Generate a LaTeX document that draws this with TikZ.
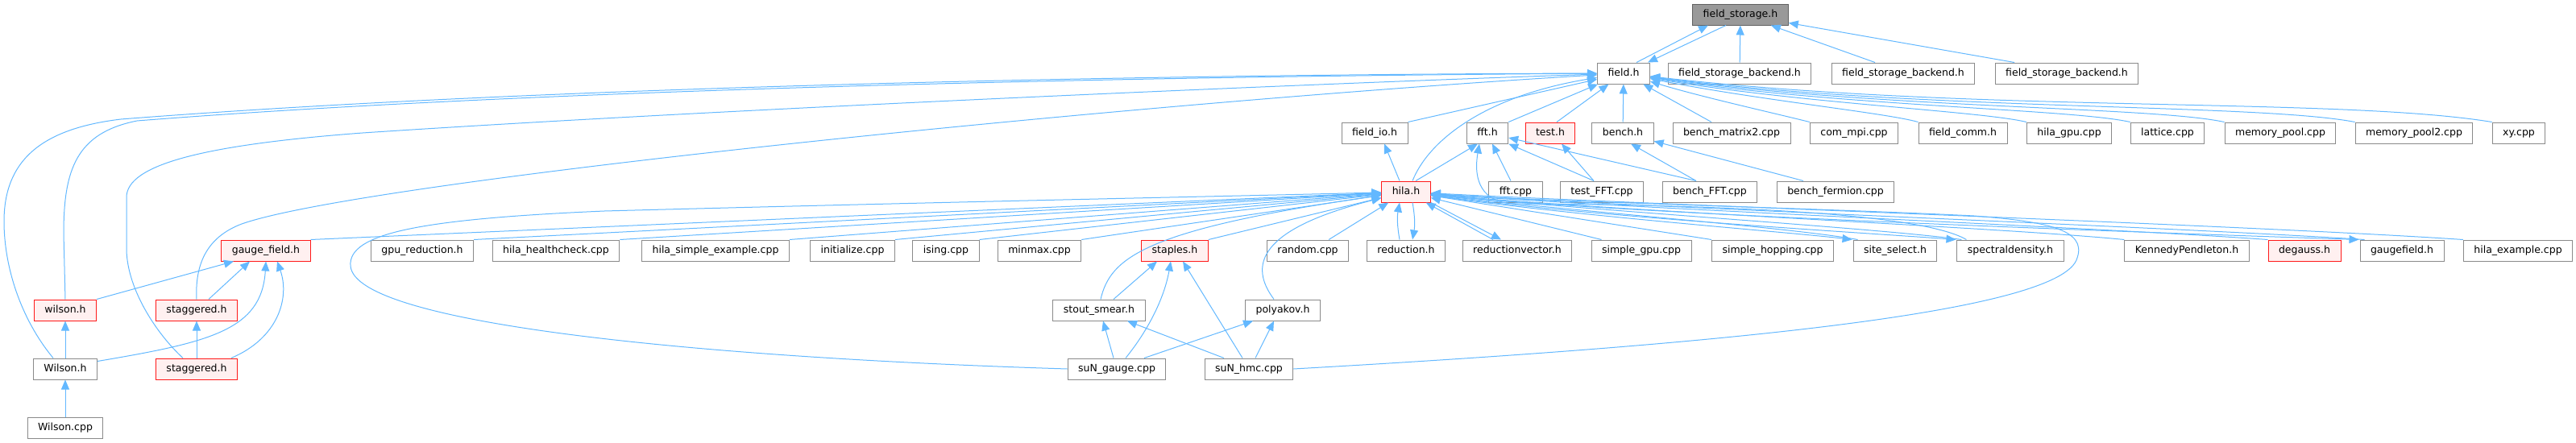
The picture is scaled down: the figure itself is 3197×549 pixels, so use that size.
\documentclass[tikz,border=0pt]{standalone}
\usepackage{fontspec}
\setmainfont{DejaVu Sans}
\usetikzlibrary{arrows.meta}
\definecolor{eb}{RGB}{99,184,255}
\definecolor{bx}{RGB}{138,138,138}
\definecolor{rootf}{RGB}{153,153,153}
\definecolor{hotf}{RGB}{255,240,240}
\tikzset{
  fb/.style={rectangle, draw=bx, fill=white, line width=1pt, minimum height=26pt,
             inner xsep=13pt, inner ysep=0pt, text height=9.5pt, text depth=2.8pt,
             font=\fontsize{12.5}{14}\selectfont},
  % arquivo com grafo truncado (borda vermelha)
  fhot/.style={fb, draw=red!90!white, fill=hotf},
  froot/.style={fb, draw=bx!70!black, fill=rootf},
  inc/.style={draw=eb, line width=1pt, -{Triangle[length=12pt,width=10pt]}}
}

\begin{document}
\begin{tikzpicture}[x=1pt, y=-1pt]
    \useasboundingbox (0,0) rectangle (3197,549);

    % --- linha 0 e 1 ---
    \node[froot] (fs) at (2160,18) {field\_storage.h};
    \node[fb] (fld) at (2015,91) {field.h};
    \node[fb] (fsb1) at (2159,91) {field\_storage\_backend.h};
    \node[fb] (fsb2) at (2362,91) {field\_storage\_backend.h};
    \node[fb] (fsb3) at (2565,91) {field\_storage\_backend.h};

    % --- linha 2 ---
    \node[fb] (fio) at (1706,165) {field\_io.h};
    \node[fb] (ffth) at (1846,165) {fft.h};
    \node[fhot] (testh) at (1924,165) {test.h};
    \node[fb] (benchh) at (2014,165) {bench.h};
    \node[fb] (bm2) at (2149,165) {bench\_matrix2.cpp};
    \node[fb] (cmpi) at (2301,165) {com\_mpi.cpp};
    \node[fb] (fcomm) at (2436,165) {field\_comm.h};
    \node[fb] (hgpu) at (2568,165) {hila\_gpu.cpp};
    \node[fb] (latt) at (2690,165) {lattice.cpp};
    \node[fb] (mp) at (2830,165) {memory\_pool.cpp};
    \node[fb] (mp2) at (2996,165) {memory\_pool2.cpp};
    \node[fb] (xy) at (3126,165) {xy.cpp};

    % --- linha 3 ---
    \node[fhot] (hila) at (1745,238) {hila.h};
    \node[fb] (fftc) at (1881,238) {fft.cpp};
    \node[fb] (tfft) at (1988,238) {test\_FFT.cpp};
    \node[fb] (bfft) at (2122,238) {bench\_FFT.cpp};
    \node[fb] (bferm) at (2278,238) {bench\_fermion.cpp};

    % --- linha 4 ---
    \node[fhot] (gf) at (330,311) {gauge\_field.h};
    \node[fb] (gpur) at (524,311) {gpu\_reduction.h};
    \node[fb] (hhc) at (690,311) {hila\_healthcheck.cpp};
    \node[fb] (hse) at (888,311) {hila\_simple\_example.cpp};
    \node[fb] (init) at (1058,311) {initialize.cpp};
    \node[fb] (ising) at (1174,311) {ising.cpp};
    \node[fb] (minmax) at (1290,311) {minmax.cpp};
    \node[fhot] (stap) at (1458,311) {staples.h};
    \node[fb] (rand) at (1623,311) {random.cpp};
    \node[fb] (red) at (1745,311) {reduction.h};
    \node[fb] (redv) at (1883,311) {reductionvector.h};
    \node[fb] (sgpu) at (2037,311) {simple\_gpu.cpp};
    \node[fb] (shop) at (2200,311) {simple\_hopping.cpp};
    \node[fb] (ssel) at (2352,311) {site\_select.h};
    \node[fb] (spec) at (2495,311) {spectraldensity.h};
    \node[fb] (kp) at (2714,311) {KennedyPendleton.h};
    \node[fhot] (deg) at (2860,311) {degauss.h};
    \node[fb] (gfh) at (2981,311) {gaugefield.h};
    \node[fb] (hex) at (3125,311) {hila\_example.cpp};

    % --- linhas 5 a 7 ---
    \node[fhot] (wil) at (81,385) {wilson.h};
    \node[fhot] (stga) at (244,385) {staggered.h};
    \node[fb] (stout) at (1364,385) {stout\_smear.h};
    \node[fb] (poly) at (1592,385) {polyakov.h};
    \node[fb] (Wil) at (81,458) {Wilson.h};
    \node[fhot] (stgb) at (244,458) {staggered.h};
    \node[fb] (sung) at (1386,458) {suN\_gauge.cpp};
    \node[fb] (sunh) at (1550,458) {suN\_hmc.cpp};
    \node[fb] (wcpp) at (81,531) {Wilson.cpp};

    % --- field_storage.h ---
    \draw[inc] ([xshift=16]fld.north) -- ([xshift=-40]fs.south);
    \draw[inc] ([xshift=-18]fs.south) -- ([xshift=-3]fld.north east);
    \draw[inc] (fsb1) -- (fs);
    \draw[inc] ([xshift=-35]fsb2.north) -- (fs);
    \draw[inc] ([xshift=-65]fsb3.north) -- (fs);

    % --- field.h ---
    \draw[inc] (fio.north east) -- (fld);
    \draw[inc] (ffth.north east) -- (fld);
    \draw[inc] ([xshift=8]testh.north) -- (fld);
    \draw[inc] (benchh) -- (fld);
    \draw[inc] ([xshift=-25]bm2.north) -- (fld);
    \draw[inc] (cmpi.north west) .. controls (2200,140) and (2110,120) .. (fld);
    \draw[inc] (fcomm.north west) .. controls (2340,140) and (2180,124) .. (fld);
    \draw[inc] (hgpu.north west) .. controls (2460,138) and (2230,128) .. (fld);
    \draw[inc] (latt.north west) .. controls (2570,135) and (2280,132) .. (fld);
    \draw[inc] (mp.north west) .. controls (2670,132) and (2330,135) .. (fld);
    \draw[inc] (mp2.north west) .. controls (2800,128) and (2380,138) .. (fld);
    \draw[inc] (xy.north west) .. controls (2900,120) and (2450,141) .. (fld);
    \draw[inc] ([xshift=8]hila.north) .. controls (1775,170) and (1850,118) .. (fld);
    % arcos longos pela esquerda
    \draw[inc] ([xshift=-15]Wil.north) .. controls (25,395) and (5,330) .. (5,275)
      .. controls (5,200) and (50,160) .. (150,148) .. controls (700,105) and (1500,92) .. (fld);
    \draw[inc] (wil.north) -- (79,290) .. controls (79,210) and (95,165) .. (170,150)
      .. controls (700,108) and (1500,94) .. (fld);
    \draw[inc] ([xshift=-17]stgb.north) .. controls (195,415) and (158,360) .. (157,310) -- (157,245)
      .. controls (157,205) and (250,180) .. (450,165) .. controls (900,135) and (1650,103) .. (fld);
    \draw[inc] (stga.north) .. controls (242,330) and (255,295) .. (300,278)
      .. controls (450,225) and (1400,128) .. (fld);

    % --- fft.h, test.h, bench.h ---
    \draw[inc] ([xshift=-8]hila.north) -- ([xshift=12]fio.south);
    \draw[inc] ([xshift=12]hila.north) -- ([xshift=-12]ffth.south);
    \draw[inc] ([xshift=-6]fftc.north) -- ([xshift=6]ffth.south);
    \draw[inc] ([xshift=-10]tfft.north) -- (ffth.south east);
    \draw[inc] ([xshift=-10]tfft.north) -- ([xshift=14]testh.south);
    \draw[inc] ([xshift=-17]bfft.north) -- (ffth);
    \draw[inc] ([xshift=-17]bfft.north) -- ([xshift=10]benchh.south);
    \draw[inc] ([xshift=-40]bferm.north) -- (benchh);
    \draw[inc] ([xshift=12]spec.north west) .. controls (2380,262) and (2100,254) .. (1880,253)
      .. controls (1840,252) and (1828,225) .. ([xshift=-10]ffth.south);

    % --- hila.h, lado esquerdo ---
    \draw[inc] (gf.north east) -- (hila);
    \draw[inc] (gpur.north east) -- (hila);
    \draw[inc] (hhc.north east) -- (hila);
    \draw[inc] (hse.north east) -- (hila);
    \draw[inc] (init.north east) -- (hila);
    \draw[inc] (ising.north east) -- (hila);
    \draw[inc] (minmax.north east) -- (hila);
    \draw[inc] (stap.north east) -- (hila);
    \draw[inc] ([xshift=2]stout.north) .. controls (1378,320) and (1420,285) .. (hila);
    \draw[inc] ([xshift=-11]poly.north) .. controls (1550,330) and (1560,285) .. (hila);
    \draw[inc] ([xshift=-25]rand.north east) -- (hila);
    \draw[inc] (sung.west) .. controls (900,445) and (440,405) .. (435,330)
      .. controls (432,290) and (520,272) .. (750,262) .. controls (1200,250) and (1600,242) .. (hila);

    % --- hila.h, ida e volta ---
    \draw[inc] ([xshift=-8]red.north) to[bend left=10] ([xshift=-8]hila.south);
    \draw[inc] ([xshift=8]hila.south) to[bend left=10] ([xshift=8]red.north);
    \draw[inc] ([xshift=-30]redv.north) -- ([xshift=-6]hila.south east);
    \draw[inc] (hila.south east) -- ([xshift=-20]redv.north);
    \draw[inc] ([xshift=13]sgpu.north west) -- (hila);
    \draw[inc] (shop.north west) -- (hila);
    \draw[inc] ([xshift=6]ssel.north west) .. controls (2220,282) and (1950,262) .. (hila);
    \draw[inc] (hila) .. controls (1950,268) and (2220,288) .. ([xshift=-1]ssel.north west);
    \draw[inc] ([xshift=6]spec.north west) .. controls (2330,283) and (1980,262) .. (hila);
    \draw[inc] (hila) .. controls (1980,270) and (2330,290) .. ([xshift=-1]spec.north west);
    \draw[inc] (kp.north west) .. controls (2480,282) and (2000,262) .. (hila);
    \draw[inc] (deg.north west) .. controls (2600,282) and (2000,258) .. (hila);
    \draw[inc] ([xshift=6]gfh.north west) .. controls (2700,282) and (2000,256) .. (hila);
    \draw[inc] (hila) .. controls (2000,266) and (2700,290) .. ([xshift=-1]gfh.north west);
    \draw[inc] (hex.north west) .. controls (2800,280) and (2000,252) .. (hila);
    \draw[inc] (sunh.east) .. controls (2100,430) and (2560,390) .. (2578,320)
      .. controls (2590,285) and (2540,275) .. (2450,268) .. controls (2250,258) and (1900,250) .. (hila);

    % --- gauge_field.h ---
    \draw[inc] (wil.north east) -- ([xshift=-40]gf.south);
    \draw[inc] ([xshift=15]stga.north) -- ([xshift=-20]gf.south);
    \draw[inc] ([yshift=-4]Wil.north east) .. controls (260,425) and (325,410) .. (gf.south);
    \draw[inc] ([xshift=-8]stgb.north east) .. controls (345,420) and (360,370) .. ([xshift=14]gf.south);
    \draw[inc] (stgb) -- (stga);
    \draw[inc] (Wil) -- (wil);
    \draw[inc] (wcpp) -- (Wil);

    % --- staples, stout_smear, polyakov ---
    \draw[inc] ([xshift=18]stout.north) -- ([xshift=-22]stap.south);
    \draw[inc] ([xshift=11]sung.north) .. controls (1425,410) and (1445,370) .. ([xshift=-5]stap.south);
    \draw[inc] ([xshift=-8]sunh.north) -- ([xshift=10]stap.south);
    \draw[inc] ([xshift=-4]sung.north) -- ([xshift=5]stout.south);
    \draw[inc] ([xshift=-31]sunh.north) -- ([xshift=35]stout.south);
    \draw[inc] ([xshift=34]sung.north) -- ([xshift=-37]poly.south);
    \draw[inc] ([xshift=8]sunh.north) -- ([xshift=-11]poly.south);
\end{tikzpicture}
\end{document}
